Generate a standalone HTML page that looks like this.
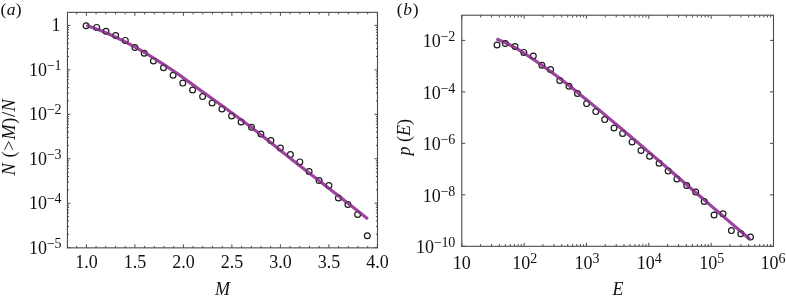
<!DOCTYPE html>
<html><head><meta charset="utf-8"><style>
html,body{margin:0;padding:0;background:#fff;width:786px;height:299px;overflow:hidden;font-family:"Liberation Serif",serif;}
svg{display:block;filter:blur(0.3px)}
</style></head><body>
<svg width="786" height="299" viewBox="0 0 786 299"><rect width="786" height="299" fill="#fff"/><path d="M76.7 247.85L76.7 245.85M76.7 12.35L76.7 14.35M86.4 247.85L86.4 244.35M86.4 12.35L86.4 15.85M96.1 247.85L96.1 245.85M96.1 12.35L96.1 14.35M105.8 247.85L105.8 245.85M105.8 12.35L105.8 14.35M115.5 247.85L115.5 245.85M115.5 12.35L115.5 14.35M125.2 247.85L125.2 245.85M125.2 12.35L125.2 14.35M134.9 247.85L134.9 244.35M134.9 12.35L134.9 15.85M144.6 247.85L144.6 245.85M144.6 12.35L144.6 14.35M154.3 247.85L154.3 245.85M154.3 12.35L154.3 14.35M164 247.85L164 245.85M164 12.35L164 14.35M173.7 247.85L173.7 245.85M173.7 12.35L173.7 14.35M183.4 247.85L183.4 244.35M183.4 12.35L183.4 15.85M193.1 247.85L193.1 245.85M193.1 12.35L193.1 14.35M202.8 247.85L202.8 245.85M202.8 12.35L202.8 14.35M212.5 247.85L212.5 245.85M212.5 12.35L212.5 14.35M222.2 247.85L222.2 245.85M222.2 12.35L222.2 14.35M231.9 247.85L231.9 244.35M231.9 12.35L231.9 15.85M241.6 247.85L241.6 245.85M241.6 12.35L241.6 14.35M251.3 247.85L251.3 245.85M251.3 12.35L251.3 14.35M261 247.85L261 245.85M261 12.35L261 14.35M270.7 247.85L270.7 245.85M270.7 12.35L270.7 14.35M280.4 247.85L280.4 244.35M280.4 12.35L280.4 15.85M290.1 247.85L290.1 245.85M290.1 12.35L290.1 14.35M299.8 247.85L299.8 245.85M299.8 12.35L299.8 14.35M309.5 247.85L309.5 245.85M309.5 12.35L309.5 14.35M319.2 247.85L319.2 245.85M319.2 12.35L319.2 14.35M328.9 247.85L328.9 244.35M328.9 12.35L328.9 15.85M338.6 247.85L338.6 245.85M338.6 12.35L338.6 14.35M348.3 247.85L348.3 245.85M348.3 12.35L348.3 14.35M358 247.85L358 245.85M358 12.35L358 14.35M367.7 247.85L367.7 245.85M367.7 12.35L367.7 14.35M377.4 247.85L377.4 244.35M377.4 12.35L377.4 15.85M67.45 25.4L70.45 25.4M377.5 25.4L374.5 25.4M67.45 69.85L70.45 69.85M377.5 69.85L374.5 69.85M67.45 56.47L69.05 56.47M377.5 56.47L375.9 56.47M67.45 48.64L69.05 48.64M377.5 48.64L375.9 48.64M67.45 43.09L69.05 43.09M377.5 43.09L375.9 43.09M67.45 38.78L69.05 38.78M377.5 38.78L375.9 38.78M67.45 35.26L69.05 35.26M377.5 35.26L375.9 35.26M67.45 32.29L69.05 32.29M377.5 32.29L375.9 32.29M67.45 29.71L69.05 29.71M377.5 29.71L375.9 29.71M67.45 27.43L69.05 27.43M377.5 27.43L375.9 27.43M67.45 114.3L70.45 114.3M377.5 114.3L374.5 114.3M67.45 100.92L69.05 100.92M377.5 100.92L375.9 100.92M67.45 93.09L69.05 93.09M377.5 93.09L375.9 93.09M67.45 87.54L69.05 87.54M377.5 87.54L375.9 87.54M67.45 83.23L69.05 83.23M377.5 83.23L375.9 83.23M67.45 79.71L69.05 79.71M377.5 79.71L375.9 79.71M67.45 76.74L69.05 76.74M377.5 76.74L375.9 76.74M67.45 74.16L69.05 74.16M377.5 74.16L375.9 74.16M67.45 71.88L69.05 71.88M377.5 71.88L375.9 71.88M67.45 158.75L70.45 158.75M377.5 158.75L374.5 158.75M67.45 145.37L69.05 145.37M377.5 145.37L375.9 145.37M67.45 137.54L69.05 137.54M377.5 137.54L375.9 137.54M67.45 131.99L69.05 131.99M377.5 131.99L375.9 131.99M67.45 127.68L69.05 127.68M377.5 127.68L375.9 127.68M67.45 124.16L69.05 124.16M377.5 124.16L375.9 124.16M67.45 121.19L69.05 121.19M377.5 121.19L375.9 121.19M67.45 118.61L69.05 118.61M377.5 118.61L375.9 118.61M67.45 116.33L69.05 116.33M377.5 116.33L375.9 116.33M67.45 203.2L70.45 203.2M377.5 203.2L374.5 203.2M67.45 189.82L69.05 189.82M377.5 189.82L375.9 189.82M67.45 181.99L69.05 181.99M377.5 181.99L375.9 181.99M67.45 176.44L69.05 176.44M377.5 176.44L375.9 176.44M67.45 172.13L69.05 172.13M377.5 172.13L375.9 172.13M67.45 168.61L69.05 168.61M377.5 168.61L375.9 168.61M67.45 165.64L69.05 165.64M377.5 165.64L375.9 165.64M67.45 163.06L69.05 163.06M377.5 163.06L375.9 163.06M67.45 160.78L69.05 160.78M377.5 160.78L375.9 160.78M67.45 247.65L70.45 247.65M377.5 247.65L374.5 247.65M67.45 234.27L69.05 234.27M377.5 234.27L375.9 234.27M67.45 226.44L69.05 226.44M377.5 226.44L375.9 226.44M67.45 220.89L69.05 220.89M377.5 220.89L375.9 220.89M67.45 216.58L69.05 216.58M377.5 216.58L375.9 216.58M67.45 213.06L69.05 213.06M377.5 213.06L375.9 213.06M67.45 210.09L69.05 210.09M377.5 210.09L375.9 210.09M67.45 207.51L69.05 207.51M377.5 207.51L375.9 207.51M67.45 205.23L69.05 205.23M377.5 205.23L375.9 205.23" stroke="#4a4a4a" stroke-width="1" fill="none"/><rect x="67.45" y="12.35" width="310.05" height="235.5" fill="none" stroke="#4a4a4a" stroke-width="1.1"/><path d="M461.8 246.3L461.8 242.8M461.8 15.2L461.8 18.7M480.57 246.3L480.57 244.1M480.57 15.2L480.57 17.4M491.54 246.3L491.54 244.1M491.54 15.2L491.54 17.4M499.33 246.3L499.33 244.1M499.33 15.2L499.33 17.4M505.37 246.3L505.37 244.1M505.37 15.2L505.37 17.4M510.31 246.3L510.31 244.1M510.31 15.2L510.31 17.4M514.48 246.3L514.48 244.1M514.48 15.2L514.48 17.4M518.1 246.3L518.1 244.1M518.1 15.2L518.1 17.4M521.29 246.3L521.29 244.1M521.29 15.2L521.29 17.4M524.14 246.3L524.14 242.8M524.14 15.2L524.14 18.7M542.91 246.3L542.91 244.1M542.91 15.2L542.91 17.4M553.88 246.3L553.88 244.1M553.88 15.2L553.88 17.4M561.67 246.3L561.67 244.1M561.67 15.2L561.67 17.4M567.71 246.3L567.71 244.1M567.71 15.2L567.71 17.4M572.65 246.3L572.65 244.1M572.65 15.2L572.65 17.4M576.82 246.3L576.82 244.1M576.82 15.2L576.82 17.4M580.44 246.3L580.44 244.1M580.44 15.2L580.44 17.4M583.63 246.3L583.63 244.1M583.63 15.2L583.63 17.4M586.48 246.3L586.48 242.8M586.48 15.2L586.48 18.7M605.25 246.3L605.25 244.1M605.25 15.2L605.25 17.4M616.22 246.3L616.22 244.1M616.22 15.2L616.22 17.4M624.01 246.3L624.01 244.1M624.01 15.2L624.01 17.4M630.05 246.3L630.05 244.1M630.05 15.2L630.05 17.4M634.99 246.3L634.99 244.1M634.99 15.2L634.99 17.4M639.16 246.3L639.16 244.1M639.16 15.2L639.16 17.4M642.78 246.3L642.78 244.1M642.78 15.2L642.78 17.4M645.97 246.3L645.97 244.1M645.97 15.2L645.97 17.4M648.82 246.3L648.82 242.8M648.82 15.2L648.82 18.7M667.59 246.3L667.59 244.1M667.59 15.2L667.59 17.4M678.56 246.3L678.56 244.1M678.56 15.2L678.56 17.4M686.35 246.3L686.35 244.1M686.35 15.2L686.35 17.4M692.39 246.3L692.39 244.1M692.39 15.2L692.39 17.4M697.33 246.3L697.33 244.1M697.33 15.2L697.33 17.4M701.5 246.3L701.5 244.1M701.5 15.2L701.5 17.4M705.12 246.3L705.12 244.1M705.12 15.2L705.12 17.4M708.31 246.3L708.31 244.1M708.31 15.2L708.31 17.4M711.16 246.3L711.16 242.8M711.16 15.2L711.16 18.7M729.93 246.3L729.93 244.1M729.93 15.2L729.93 17.4M740.9 246.3L740.9 244.1M740.9 15.2L740.9 17.4M748.69 246.3L748.69 244.1M748.69 15.2L748.69 17.4M754.73 246.3L754.73 244.1M754.73 15.2L754.73 17.4M759.67 246.3L759.67 244.1M759.67 15.2L759.67 17.4M763.84 246.3L763.84 244.1M763.84 15.2L763.84 17.4M767.46 246.3L767.46 244.1M767.46 15.2L767.46 17.4M770.65 246.3L770.65 244.1M770.65 15.2L770.65 17.4M773.5 246.3L773.5 242.8M773.5 15.2L773.5 18.7M461.8 246.3L465.3 246.3M773.5 246.3L770 246.3M461.8 194.82L465.3 194.82M773.5 194.82L770 194.82M461.8 143.34L465.3 143.34M773.5 143.34L770 143.34M461.8 91.86L465.3 91.86M773.5 91.86L770 91.86M461.8 40.38L465.3 40.38M773.5 40.38L770 40.38" stroke="#4a4a4a" stroke-width="1" fill="none"/><rect x="461.8" y="15.2" width="311.7" height="231.1" fill="none" stroke="#4a4a4a" stroke-width="1.1"/><path d="M86.5 25.38C88.75 26.2 95.25 28.35 100 30.26C104.75 32.18 110 34.54 115 36.88C120 39.23 125 41.71 130 44.35C135 46.99 140 49.78 145 52.73C150 55.69 155 58.89 160 62.1C165 65.3 170 68.53 175 71.96C180 75.38 185 79.03 190 82.63C195 86.23 200 89.92 205 93.53C210 97.14 215 100.68 220 104.28C225 107.89 230 111.47 235 115.15C240 118.82 245 122.52 250 126.34C255 130.16 260 134.12 265 138.08C270 142.04 275 146.08 280 150.08C285 154.08 290 158.13 295 162.06C300 165.99 305 169.81 310 173.69C315 177.56 320 181.42 325 185.32C330 189.22 335 193.18 340 197.09C345 201 350.37 205.17 355 208.8C359.63 212.43 365.67 217.21 367.8 218.89" fill="none" stroke="#9c45a0" stroke-width="3.1" stroke-linecap="butt" stroke-linejoin="round"/><path d="M496.5 38.87C497.92 39.49 501.92 41.1 505 42.57C508.08 44.04 511.67 45.82 515 47.68C518.33 49.55 521.67 51.63 525 53.76C528.33 55.88 531.67 58.17 535 60.45C538.33 62.73 541.67 65.03 545 67.42C548.33 69.82 550.83 71.67 555 74.83C559.17 77.98 565 82.4 570 86.34C575 90.29 580 94.43 585 98.5C590 102.58 594.17 105.95 600 110.79C605.83 115.63 613.33 121.92 620 127.54C626.67 133.16 633.33 138.82 640 144.51C646.67 150.21 653.33 155.94 660 161.69C666.67 167.44 673.33 173.23 680 179C686.67 184.77 693.33 190.53 700 196.29C706.67 202.04 713.33 207.78 720 213.53C726.67 219.27 734.97 226.42 740 230.75C745.03 235.08 748.5 238.05 750.2 239.51" fill="none" stroke="#9c45a0" stroke-width="3.1" stroke-linecap="butt" stroke-linejoin="round"/><g fill="none" stroke="#1a1a1a" stroke-width="1.2"><circle cx="86.1" cy="25.8" r="2.9"/><circle cx="96.7" cy="27.4" r="2.9"/><circle cx="106" cy="31.3" r="2.9"/><circle cx="115.6" cy="35.5" r="2.9"/><circle cx="125.3" cy="40.4" r="2.9"/><circle cx="134.9" cy="47.5" r="2.9"/><circle cx="144.2" cy="53.3" r="2.9"/><circle cx="153.4" cy="61" r="2.9"/><circle cx="163.5" cy="67.7" r="2.9"/><circle cx="173.1" cy="75.3" r="2.9"/><circle cx="182.8" cy="83.1" r="2.9"/><circle cx="192.6" cy="90" r="2.9"/><circle cx="202.6" cy="96.6" r="2.9"/><circle cx="212.1" cy="103" r="2.9"/><circle cx="221.9" cy="109" r="2.9"/><circle cx="231.6" cy="116" r="2.9"/><circle cx="241.1" cy="122" r="2.9"/><circle cx="251.5" cy="127.3" r="2.9"/><circle cx="260.9" cy="134.1" r="2.9"/><circle cx="270.9" cy="140.6" r="2.9"/><circle cx="280.4" cy="148.1" r="2.9"/><circle cx="290.4" cy="154.6" r="2.9"/><circle cx="299.8" cy="161.9" r="2.9"/><circle cx="309.1" cy="171.5" r="2.9"/><circle cx="319.1" cy="180.6" r="2.9"/><circle cx="328.9" cy="185.6" r="2.9"/><circle cx="338.4" cy="198" r="2.9"/><circle cx="347.9" cy="204.4" r="2.9"/><circle cx="357.6" cy="214.5" r="2.9"/><circle cx="367.3" cy="235.7" r="2.9"/></g><g fill="none" stroke="#1a1a1a" stroke-width="1.2"><circle cx="497" cy="45" r="2.9"/><circle cx="505.3" cy="43.5" r="2.9"/><circle cx="515" cy="46.5" r="2.9"/><circle cx="523.8" cy="52.4" r="2.9"/><circle cx="533.3" cy="56.1" r="2.9"/><circle cx="541.9" cy="65.3" r="2.9"/><circle cx="550.6" cy="69.5" r="2.9"/><circle cx="559.8" cy="80.5" r="2.9"/><circle cx="569" cy="86.2" r="2.9"/><circle cx="577.5" cy="93.4" r="2.9"/><circle cx="586.6" cy="103.6" r="2.9"/><circle cx="595.8" cy="111.6" r="2.9"/><circle cx="604.7" cy="119.6" r="2.9"/><circle cx="614" cy="128" r="2.9"/><circle cx="622.6" cy="133.4" r="2.9"/><circle cx="632.1" cy="141.9" r="2.9"/><circle cx="641" cy="150.5" r="2.9"/><circle cx="649.6" cy="156.2" r="2.9"/><circle cx="659.1" cy="163.2" r="2.9"/><circle cx="668.1" cy="171.1" r="2.9"/><circle cx="676.9" cy="178.9" r="2.9"/><circle cx="686.7" cy="185.5" r="2.9"/><circle cx="695.7" cy="192.1" r="2.9"/><circle cx="704.2" cy="201.4" r="2.9"/><circle cx="714.1" cy="215" r="2.9"/><circle cx="723" cy="213.8" r="2.9"/><circle cx="731.4" cy="230.6" r="2.9"/><circle cx="740.8" cy="233.8" r="2.9"/><circle cx="750.5" cy="237.1" r="2.9"/></g><path d="M86.5 25.38C88.75 26.2 95.25 28.35 100 30.26C104.75 32.18 110 34.54 115 36.88C120 39.23 125 41.71 130 44.35C135 46.99 140 49.78 145 52.73C150 55.69 155 58.89 160 62.1C165 65.3 170 68.53 175 71.96C180 75.38 185 79.03 190 82.63C195 86.23 200 89.92 205 93.53C210 97.14 215 100.68 220 104.28C225 107.89 230 111.47 235 115.15C240 118.82 245 122.52 250 126.34C255 130.16 260 134.12 265 138.08C270 142.04 275 146.08 280 150.08C285 154.08 290 158.13 295 162.06C300 165.99 305 169.81 310 173.69C315 177.56 320 181.42 325 185.32C330 189.22 335 193.18 340 197.09C345 201 350.37 205.17 355 208.8C359.63 212.43 365.67 217.21 367.8 218.89" fill="none" stroke="#9c45a0" stroke-opacity="0.6" stroke-width="2.7" stroke-linecap="butt" stroke-linejoin="round"/><path d="M496.5 38.87C497.92 39.49 501.92 41.1 505 42.57C508.08 44.04 511.67 45.82 515 47.68C518.33 49.55 521.67 51.63 525 53.76C528.33 55.88 531.67 58.17 535 60.45C538.33 62.73 541.67 65.03 545 67.42C548.33 69.82 550.83 71.67 555 74.83C559.17 77.98 565 82.4 570 86.34C575 90.29 580 94.43 585 98.5C590 102.58 594.17 105.95 600 110.79C605.83 115.63 613.33 121.92 620 127.54C626.67 133.16 633.33 138.82 640 144.51C646.67 150.21 653.33 155.94 660 161.69C666.67 167.44 673.33 173.23 680 179C686.67 184.77 693.33 190.53 700 196.29C706.67 202.04 713.33 207.78 720 213.53C726.67 219.27 734.97 226.42 740 230.75C745.03 235.08 748.5 238.05 750.2 239.51" fill="none" stroke="#9c45a0" stroke-opacity="0.6" stroke-width="2.7" stroke-linecap="butt" stroke-linejoin="round"/><text x="0.5" y="15.3" font-size="17.5" text-anchor="start" font-family="Liberation Serif, serif" fill="#111" letter-spacing="0.35">(<tspan font-style="italic">a</tspan>)</text><text x="396.8" y="15.3" font-size="17.5" text-anchor="start" font-family="Liberation Serif, serif" fill="#111" letter-spacing="0.7">(<tspan font-style="italic">b</tspan>)</text><text x="60.5" y="31" font-size="18" text-anchor="end" font-family="Liberation Serif, serif" fill="#111" >1</text><text x="61" y="75.65" font-size="18" text-anchor="end" font-family="Liberation Serif, serif" fill="#111">10<tspan font-size="14" dy="-6" letter-spacing="-0.4">−1</tspan></text><text x="61" y="120.1" font-size="18" text-anchor="end" font-family="Liberation Serif, serif" fill="#111">10<tspan font-size="14" dy="-6" letter-spacing="-0.4">−2</tspan></text><text x="61" y="164.55" font-size="18" text-anchor="end" font-family="Liberation Serif, serif" fill="#111">10<tspan font-size="14" dy="-6" letter-spacing="-0.4">−3</tspan></text><text x="61" y="209" font-size="18" text-anchor="end" font-family="Liberation Serif, serif" fill="#111">10<tspan font-size="14" dy="-6" letter-spacing="-0.4">−4</tspan></text><text x="61" y="254.15" font-size="18" text-anchor="end" font-family="Liberation Serif, serif" fill="#111">10<tspan font-size="14" dy="-6" letter-spacing="-0.4">−5</tspan></text><text x="86.4" y="268.2" font-size="18" text-anchor="middle" font-family="Liberation Serif, serif" fill="#111" >1.0</text><text x="134.9" y="268.2" font-size="18" text-anchor="middle" font-family="Liberation Serif, serif" fill="#111" >1.5</text><text x="183.4" y="268.2" font-size="18" text-anchor="middle" font-family="Liberation Serif, serif" fill="#111" >2.0</text><text x="231.9" y="268.2" font-size="18" text-anchor="middle" font-family="Liberation Serif, serif" fill="#111" >2.5</text><text x="280.4" y="268.2" font-size="18" text-anchor="middle" font-family="Liberation Serif, serif" fill="#111" >3.0</text><text x="328.9" y="268.2" font-size="18" text-anchor="middle" font-family="Liberation Serif, serif" fill="#111" >3.5</text><text x="377.4" y="268.2" font-size="18" text-anchor="middle" font-family="Liberation Serif, serif" fill="#111" >4.0</text><text x="222.5" y="295" font-size="18" text-anchor="middle" font-family="Liberation Serif, serif" font-style="italic" fill="#111" >M</text><text transform="translate(14.6,137) rotate(-90)" font-size="18.5" letter-spacing="0.55" text-anchor="middle" font-family="Liberation Serif, serif" fill="#111"><tspan font-style="italic">N</tspan> (&gt;<tspan font-style="italic">M</tspan>)/<tspan font-style="italic">N</tspan></text><text x="454.8" y="47.18" font-size="18" text-anchor="end" font-family="Liberation Serif, serif" fill="#111">10<tspan font-size="14" dy="-6" letter-spacing="-0.4">−2</tspan></text><text x="454.8" y="98.66" font-size="18" text-anchor="end" font-family="Liberation Serif, serif" fill="#111">10<tspan font-size="14" dy="-6" letter-spacing="-0.4">−4</tspan></text><text x="454.8" y="150.14" font-size="18" text-anchor="end" font-family="Liberation Serif, serif" fill="#111">10<tspan font-size="14" dy="-6" letter-spacing="-0.4">−6</tspan></text><text x="454.8" y="201.62" font-size="18" text-anchor="end" font-family="Liberation Serif, serif" fill="#111">10<tspan font-size="14" dy="-6" letter-spacing="-0.4">−8</tspan></text><text x="454.8" y="253.1" font-size="18" text-anchor="end" font-family="Liberation Serif, serif" fill="#111">10<tspan font-size="14" dy="-6" letter-spacing="-0.4">−10</tspan></text><text x="461.8" y="268.6" font-size="18" text-anchor="middle" font-family="Liberation Serif, serif" fill="#111" >10</text><text x="524.44" y="268.6" font-size="18" text-anchor="middle" font-family="Liberation Serif, serif" fill="#111">10<tspan font-size="14" dy="-6" letter-spacing="-0.4">2</tspan></text><text x="586.78" y="268.6" font-size="18" text-anchor="middle" font-family="Liberation Serif, serif" fill="#111">10<tspan font-size="14" dy="-6" letter-spacing="-0.4">3</tspan></text><text x="649.12" y="268.6" font-size="18" text-anchor="middle" font-family="Liberation Serif, serif" fill="#111">10<tspan font-size="14" dy="-6" letter-spacing="-0.4">4</tspan></text><text x="711.46" y="268.6" font-size="18" text-anchor="middle" font-family="Liberation Serif, serif" fill="#111">10<tspan font-size="14" dy="-6" letter-spacing="-0.4">5</tspan></text><text x="772.9" y="268.6" font-size="18" text-anchor="middle" font-family="Liberation Serif, serif" fill="#111">10<tspan font-size="14" dy="-6" letter-spacing="-0.4">6</tspan></text><text x="618" y="295" font-size="18" text-anchor="middle" font-family="Liberation Serif, serif" font-style="italic" fill="#111" >E</text><text transform="translate(409.6,137.2) rotate(-90)" font-size="18" text-anchor="middle" font-family="Liberation Serif, serif" fill="#111"><tspan font-style="italic">p</tspan> (<tspan font-style="italic">E</tspan>)</text></svg>
</body></html>
